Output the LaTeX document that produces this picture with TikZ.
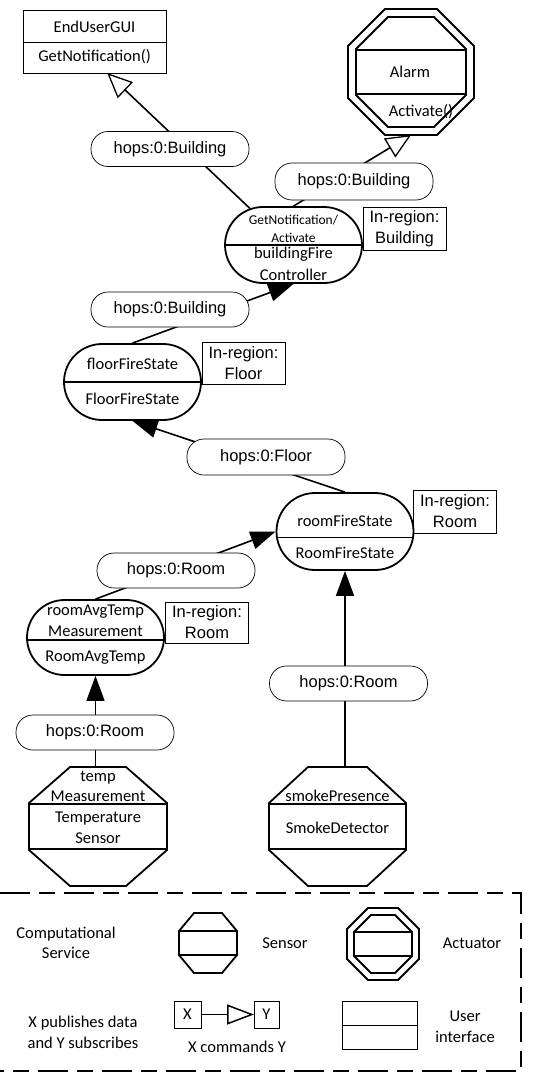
\documentclass[tikz,border=0pt]{standalone}
\usepackage{fontspec}
\setmainfont{Carlito}
\newfontfamily\arialfont{Liberation Sans}
\usetikzlibrary{arrows.meta,shapes.misc,calc}

\tikzset{every picture/.style={line width=1pt}}

% octagon drawn round the box of a node: #2 = cut in x, #3 = cut in y
\newcommand{\octagon}[3]{%
  \draw[octo] ($(#1.north west)+(#2,0)$) -- ($(#1.north east)+(-#2,0)$) -- ($(#1.north east)+(0,#3)$) -- ($(#1.south east)+(0,-#3)$) -- ($(#1.south east)+(-#2,0)$) -- ($(#1.south west)+(#2,0)$) -- ($(#1.south west)+(0,-#3)$) -- ($(#1.north west)+(0,#3)$) -- cycle;}
% the two bands of a sensor
\newcommand{\octbands}[2]{%
  \draw[octo] ($(#1.north west)+(0,#2)$) -- ($(#1.north east)+(0,#2)$);
  \draw[octo] ($(#1.south west)+(0,-#2)$) -- ($(#1.south east)+(0,-#2)$);}

\begin{document}
\begin{tikzpicture}[x=1pt,y=1pt,yscale=-1,
  svc/.style={draw, line width=1.8pt, rounded rectangle, minimum width=137pt, minimum height=76pt, inner sep=0pt},
  hop/.style={draw, fill=white, line width=0.7pt, rounded corners=17pt, minimum width=158pt, minimum height=35pt, inner sep=0pt, font=\arialfont\fontsize{16.5}{20}\selectfont},
  region/.style={draw, line width=0.7pt, align=center, minimum width=83pt, minimum height=43pt, inner sep=0pt, font=\arialfont\fontsize{16.5}{21}\selectfont},
  lbl/.style={align=center, inner sep=0pt, font=\fontsize{16.5}{21}\selectfont},
  tiny/.style={align=center, inner sep=0pt, font=\fontsize{13.5}{18}\selectfont},
  frame/.style={inner sep=0pt, outer sep=0pt},
  box/.style={draw, line width=0.8pt, inner sep=0pt, outer sep=0pt},
  octo/.style={line width=1.8pt},
  pub/.style={line width=1.6pt, -{Triangle[length=25pt,width=18pt]}},
  cmd/.style={line width=1.6pt, -{Triangle[open,length=25pt,width=22pt,line width=1.3pt]}},
  legendframe/.style={line width=1.6pt, dash pattern={on 30pt off 9pt on 16pt off 9pt}}]
\useasboundingbox (0,0) rectangle (545,1073);

%User interface
\node[box, minimum width=143pt, minimum height=63pt] (gui) at (94.5,41.5) {};
\draw[line width=0.8pt] (gui.west) ++(0,0.5) -- ($(gui.east)+(0,0.5)$);
\node[lbl] (gui-a) at (94.5,27) {EndUserGUI};
\node[lbl] (gui-b) at (94.5,57) {GetNotification()};

%Actuator
\node[frame, minimum width=126pt, minimum height=126pt] (alarm) at (411,72) {};
\node[frame, minimum width=110pt, minimum height=110pt] (alarm-in) at (411,72) {};
\octagon{alarm}{37}{37}
\octagon{alarm-in}{32}{32}
\octbands{alarm-in}{33}
\node[lbl] (alarm-a) at (410,72) {Alarm};
\node[lbl] (alarm-b) at (421,112) {Activate()};

%Computational services
\node[svc] (ctrl) at (293.5,245) {};
\draw[line width=1.8pt] (ctrl.west) -- (ctrl.east);
\node[tiny] (ctrl-a) at (293.5,229) {GetNotification/\\Activate};
\node[lbl, font=\fontsize{16.5}{22}\selectfont] (ctrl-b) at (293.5,264) {buildingFire\\Controller};

\node[svc] (floor) at (132.5,382) {};
\draw[line width=1.8pt] (floor.west) -- (floor.east);
\node[lbl] (floor-a) at (132.5,364) {floorFireState};
\node[lbl] (floor-b) at (132.5,399) {FloorFireState};

\node[svc, minimum height=77pt] (room) at (345,531.5) {};
\draw[line width=1.8pt] (room.west) ++(0,6) -- ($(room.east)+(0,6)$);
\node[lbl] (room-a) at (345,521) {roomFireState};
\node[lbl] (room-b) at (345,553) {RoomFireState};

\node[svc, minimum height=75pt] (avg) at (95.5,637.5) {};
\draw[line width=1.8pt] (avg.west) ++(0,2.5) -- ($(avg.east)+(0,2.5)$);
\node[lbl] (avg-a) at (95.5,620.5) {roomAvgTemp\\Measurement};
\node[lbl] (avg-b) at (95.5,658) {RoomAvgTemp};

%Sensors
\node[frame, minimum width=138pt, minimum height=119pt] (ts) at (98,826.5) {};
\octagon{ts}{41}{36}
\octbands{ts}{37}
\node[lbl, font=\fontsize{16.5}{20}\selectfont] (ts-a) at (98,786) {temp\\Measurement};
\node[lbl] (ts-b) at (98,827.5) {Temperature\\Sensor};

\node[frame, minimum width=137pt, minimum height=119pt] (smoke) at (337.5,826.5) {};
\octagon{smoke}{39}{36}
\octbands{smoke}{37}
\node[lbl] (smoke-a) at (337.5,796) {smokePresence};
\node[lbl] (smoke-b) at (337.5,828) {SmokeDetector};

%Region boxes
\node[region] (rb-building) at (404.5,229) {In-region:\\Building};
\node[region, minimum height=42pt] (rb-floor) at (243.5,363) {In-region:\\Floor};
\node[region] (rb-room) at (455,511.5) {In-region:\\Room};
\node[region, minimum height=41pt] (rb-avg) at (207,622.5) {In-region:\\Room};

%Connectors
\draw[cmd] (ctrl.140) -- (gui.292);
\draw[cmd] (ctrl.north) -- (alarm.south);
\draw[pub] (floor.north) -- (ctrl.south);
\draw[pub] (room.north) -- (floor.south);
\draw[pub] (avg.north) -- (room.west);
\draw[pub] (avg.south |- ts.north) -- (avg.south);
\draw[pub] (room.south |- smoke.north) -- (room.south);

%Hops labels
\node[hop] (hop-gui) at (170,149) {hops:0:Building};
\node[hop, minimum height=37pt] (hop-alarm) at (354,181.5) {hops:0:Building};
\node[hop] (hop-ctrl) at (170,309.5) {hops:0:Building};
\node[hop, minimum height=36pt] (hop-floor) at (266,457) {hops:0:Floor};
\node[hop] (hop-room) at (176,570.5) {hops:0:Room};
\node[hop] (hop-avg) at (95,732.5) {hops:0:Room};
\node[hop] (hop-smoke) at (348.5,683.5) {hops:0:Room};

%Legend
\draw[legendframe] (0,893) -- (521,893) -- (521,1071) -- (0,1071);
\node[lbl, font=\fontsize{16.5}{20}\selectfont] (key-svc) at (66,943) {Computational\\Service};
\node[frame, minimum width=58pt, minimum height=60pt] (key-sensor) at (208,943) {};
\octagon{key-sensor}{15}{18}
\octbands{key-sensor}{18}
\node[lbl] (key-sensor-t) at (285,943) {Sensor};
\node[frame, minimum width=72pt, minimum height=72pt] (key-act) at (383,944) {};
\node[frame, minimum width=58pt, minimum height=58pt] (key-act-in) at (383,944) {};
\octagon{key-act}{21}{21}
\octagon{key-act-in}{17}{17}
\octbands{key-act-in}{17}
\node[lbl] (key-act-t) at (472,943) {Actuator};

\node[lbl] (key-pub) at (83,1032) {X publishes data\\and Y subscribes};
\node[box, minimum width=27pt, minimum height=27pt, lbl] (xbox) at (187.5,1014.5) {X};
\node[box, minimum width=25pt, minimum height=27pt, lbl] (ybox) at (266.5,1014.5) {Y};
\draw[line width=1.5pt, -{Triangle[open,length=27pt,width=20pt,line width=1.5pt]}] (xbox) -- (ybox);
\node[lbl] (key-cmd) at (237,1047) {X commands Y};
\node[box, minimum width=75pt, minimum height=48pt] (key-ui) at (379.5,1025) {};
\draw[line width=0.8pt] (key-ui.west) -- (key-ui.east);
\node[lbl] (key-ui-t) at (465,1026.5) {User\\interface};
\end{tikzpicture}
\end{document}
